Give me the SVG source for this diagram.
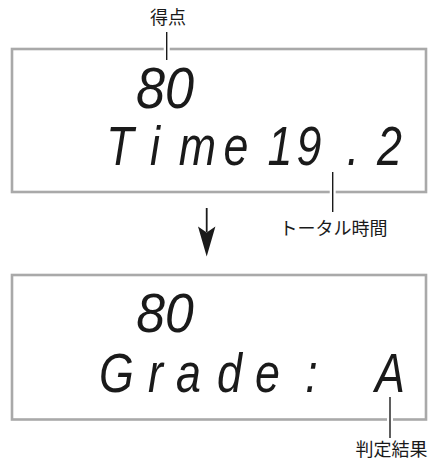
<svg xmlns="http://www.w3.org/2000/svg" width="434" height="460" viewBox="0 0 434 460">
  <style>
    .panel { fill: #ffffff; stroke: #a9a9a9; stroke-width: 2.6; }
    .lcd { font-family: "Liberation Sans", Arial, sans-serif; font-style: italic; fill: #1a1a1a; text-anchor: middle; }
    .seg { font-family: "Liberation Sans", Arial, sans-serif; font-style: italic; fill: #1a1a1a; text-anchor: middle; }
    .label { font-family: "Noto Sans CJK JP", "Noto Sans", sans-serif; font-size: 18px; fill: #1a1a1a; text-anchor: middle; }
    .halo { stroke: #ffffff; stroke-width: 6; fill: none; }
    .leader { stroke: #1a1a1a; stroke-width: 1.4; fill: none; }
  </style>
  <rect width="434" height="460" fill="#ffffff"/>

  <g id="display1">
    <rect class="panel" x="12" y="49" width="414" height="143"/>
    <text class="seg" font-size="58" transform="translate(0,108) scale(0.9,1)" x="183.3" y="0">80</text>
    <text class="lcd" font-size="56" transform="translate(0,164.5) scale(0.8,1)" x="150 193.75 246.9 295 350 386.25 441.25 486.9" y="0">Time19.2</text>
  </g>

  <g id="display2">
    <rect class="panel" x="12" y="275" width="414" height="144.5"/>
    <text class="seg" font-size="55" transform="translate(0,332) scale(0.94,1)" x="175.5" y="0">80</text>
    <text class="lcd" font-size="56" transform="translate(0,392) scale(0.8,1)" x="145.6 194.4 235.6 286.9 334.4 389.4 437.5 487.5" y="0">Grade: A</text>
  </g>

  <g id="connectors">
    <line class="halo" x1="166.7" y1="32" x2="166.7" y2="60"/>
    <line class="leader" x1="166.7" y1="32" x2="166.7" y2="60"/>
    <line class="halo" x1="332.7" y1="172" x2="332.7" y2="212"/>
    <line class="leader" x1="332.7" y1="172" x2="332.7" y2="212"/>
    <line class="halo" x1="390" y1="397" x2="390" y2="438"/>
    <line class="leader" x1="390" y1="397" x2="390" y2="438"/>
    <line x1="206.7" y1="208" x2="206.7" y2="232" stroke="#1a1a1a" stroke-width="1.8"/>
    <polygon points="198,226.5 206.7,232.5 215.4,226.5 206.7,256.5" fill="#1a1a1a"/>
  </g>

  <g id="label-score">
    <text class="label" x="168" y="23.7">得点</text>
  </g>
  <g id="label-time">
    <text class="label" x="333.5" y="234.7">トータル時間</text>
  </g>
  <g id="label-grade">
    <text class="label" x="391.5" y="456">判定結果</text>
  </g>
</svg>
